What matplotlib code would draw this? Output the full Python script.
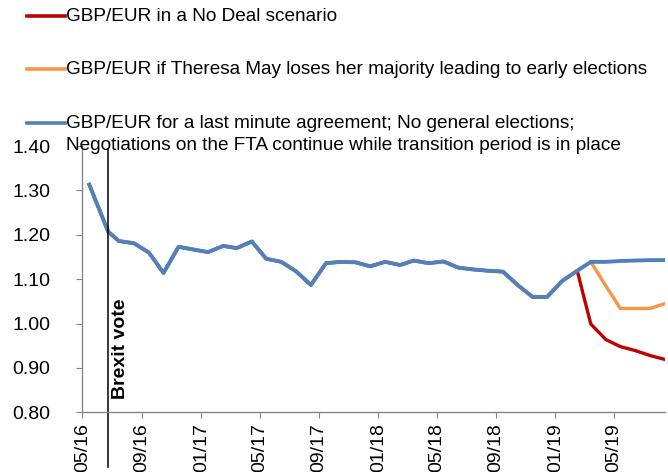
import numpy as np
import pandas as pd
import matplotlib
matplotlib.use('Agg')
import matplotlib.pyplot as plt
import matplotlib.dates as mdates
from matplotlib.lines import Line2D

plt.rcParams['font.family'] = ['Liberation Sans', 'DejaVu Sans']
plt.rcParams['font.size'] = 14

# monthly GBP/EUR, 05/16 .. 02/19 (shared history of all three series)
history = [1.313, 1.207, 1.186, 1.181, 1.160, 1.114, 1.173, 1.167, 1.161, 1.175,
           1.170, 1.185, 1.146, 1.139, 1.118, 1.087, 1.136, 1.139, 1.138, 1.129,
           1.139, 1.132, 1.142, 1.136, 1.140, 1.126, 1.122, 1.119, 1.117, 1.087,
           1.060, 1.060, 1.096, 1.119]
# scenarios 03/19 .. 08/19
agreement_tail = [1.139, 1.139, 1.141, 1.142, 1.143, 1.143]
no_deal_tail = [0.999, 0.964, 0.948, 0.939, 0.928, 0.919]
elections_tail = [1.139, 1.085, 1.034, 1.034, 1.034, 1.045]

labels = ['GBP/EUR in a No Deal scenario',
          'GBP/EUR if Theresa May loses her majority leading to early elections',
          'GBP/EUR for a last minute agreement; No general elections;\n'
          'Negotiations on the FTA continue while transition period is in place']
colors = ['#C00000', '#F79646', '#4F81BD']

n = len(history) + len(agreement_tail)
dates = list(pd.date_range('2016-05-01', periods=n, freq='MS') + pd.Timedelta(days=14))
dates[1] = pd.Timestamp('2016-06-23')
brexit = pd.Timestamp('2016-06-23')

no_deal = history + no_deal_tail
elections = history + elections_tail
agreement = history + agreement_tail

fig = plt.figure(figsize=(6.68, 4.72), dpi=100)
ax = fig.add_axes([0.1235, 0.1265, 0.872, 0.564])

ax.plot(dates, no_deal, color=colors[0], lw=2.4)
ax.plot(dates, elections, color=colors[1], lw=2.4)
ax.plot(dates, agreement, color=colors[2], lw=2.8)

ax.axvline(brexit, ymin=-0.205, ymax=0.99, color='black', lw=1.1, clip_on=False)
ax.annotate('Brexit vote', xy=(brexit, 0.830), xytext=(2.5, 0), textcoords='offset points',
            rotation=90, ha='left', va='bottom', fontweight='bold', fontsize=14)

ax.set_ylim(0.80, 1.40)
ax.set_yticks(np.arange(0.80, 1.401, 0.10))
ax.yaxis.set_major_formatter(matplotlib.ticker.FormatStrFormatter('%.2f'))
ax.set_xlim(pd.Timestamp('2016-05-01'), dates[-1])
ax.xaxis.set_major_locator(mdates.MonthLocator(bymonth=[1, 5, 9]))
ax.xaxis.set_major_formatter(mdates.DateFormatter('%m/%y'))
plt.setp(ax.get_xticklabels(), rotation=90)

for s in ['top', 'right']:
    ax.spines[s].set_visible(False)
for s in ['left', 'bottom']:
    ax.spines[s].set_color('#868686')
    ax.spines[s].set_linewidth(1)
ax.tick_params(axis='y', length=4, color='#868686', pad=19)
ax.tick_params(axis='x', length=4, color='#868686', pad=4)

# legend drawn at top like the original (handle sits on the first text line)
rows = [0.9661, 0.8532, 0.7394]
line_step = 0.0487
for lab, col, y in zip(labels, colors, rows):
    fig.add_artist(Line2D([0.040, 0.097], [y, y], color=col, lw=2.6,
                          transform=fig.transFigure))
    for k, part in enumerate(lab.split('\n')):
        fig.text(0.0995, y - k * line_step, part, va='center', ha='left', fontsize=13.7)

fig.savefig('out.png', dpi=100)
